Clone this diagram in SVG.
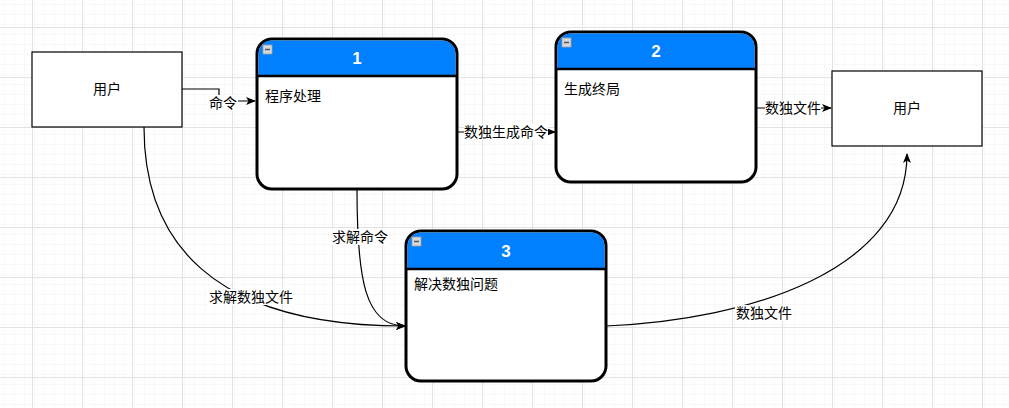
<svg xmlns="http://www.w3.org/2000/svg" width="1009" height="408" viewBox="0 0 1009 408">
<defs>
<pattern id="minor" x="2" y="7" width="10" height="10" patternUnits="userSpaceOnUse">
<path d="M0 0H10M0 0V10" fill="none" stroke="#f2f2f2" stroke-width="1"/>
</pattern>
<pattern id="major" x="32" y="27" width="50" height="50" patternUnits="userSpaceOnUse">
<rect width="50" height="50" fill="url(#minor)"/>
<path d="M0 0.5H50M0.5 0V50" fill="none" stroke="#e2e2e2" stroke-width="1"/>
</pattern>
<marker id="arr" viewBox="0 0 10 10" refX="9" refY="5" markerWidth="10" markerHeight="10" markerUnits="userSpaceOnUse" orient="auto">
<path d="M0 1L10 5L0 9L2.5 5Z" fill="#000"/>
</marker>
<g id="icon">
<rect x="0" y="0" width="9" height="9" fill="#d8d8d8" stroke="#a0a0a0" stroke-width="0.8"/>
<path d="M2 4.5H7" stroke="#555" stroke-width="1.5"/>
</g>
</defs>
<style>
.t{font-family:"Liberation Sans","Noto Sans CJK SC",sans-serif;font-size:14px;fill:#000}
.num{font-family:"Liberation Sans","Noto Sans CJK SC",sans-serif;font-size:17px;font-weight:bold;fill:#fff;text-anchor:middle}
.ext{fill:#fff;stroke:#000;stroke-width:1.2}
.proc{fill:#fff;stroke:#000;stroke-width:3}
.hdr{fill:#007fff}
.edge{fill:none;stroke:#000;stroke-width:1.2}
.lbg{fill:#fff}
</style>
<rect width="1009" height="408" fill="#fff"/>
<rect width="1009" height="408" fill="url(#major)"/>

<g id="user-left">
<rect class="ext" x="32" y="52" width="150" height="75"/>
<text class="t" x="107" y="94" text-anchor="middle">用户</text>
</g>
<g id="user-right">
<rect class="ext" x="832" y="71" width="150" height="75"/>
<text class="t" x="907" y="113" text-anchor="middle">用户</text>
</g>

<g id="p1">
<rect class="proc" x="257" y="39" width="200" height="150" rx="15"/>
<path class="hdr" d="M272 40.5H442A13.5 13.5 0 0 1 455.5 54V75H258.5V54A13.5 13.5 0 0 1 272 40.5Z"/>
<path d="M257 76H457" stroke="#000" stroke-width="2.5"/>
<use href="#icon" x="263" y="45"/>
<text class="num" x="357" y="64">1</text>
<text class="t" x="265" y="101">程序处理</text>
</g>

<g id="p2">
<rect class="proc" x="556" y="32" width="200" height="150" rx="15"/>
<path class="hdr" d="M571 33.5H741A13.5 13.5 0 0 1 754.5 47V68H557.5V47A13.5 13.5 0 0 1 571 33.5Z"/>
<path d="M556 69H756" stroke="#000" stroke-width="2.5"/>
<use href="#icon" x="562" y="38"/>
<text class="num" x="656" y="57">2</text>
<text class="t" x="564" y="94">生成终局</text>
</g>

<g id="p3">
<rect class="proc" x="406" y="231" width="200" height="150" rx="15"/>
<path class="hdr" d="M421 232.5H591A13.5 13.5 0 0 1 604.5 246V268H407.5V246A13.5 13.5 0 0 1 421 232.5Z"/>
<path d="M406 269H606" stroke="#000" stroke-width="2.5"/>
<use href="#icon" x="412" y="237"/>
<text class="num" x="506" y="257">3</text>
<text class="t" x="414" y="289">解决数独问题</text>
</g>

<g id="connectors">
<path class="edge" d="M182 89H219V101H255" marker-end="url(#arr)"/>
<path class="edge" d="M457 132H555" marker-end="url(#arr)"/>
<path class="edge" d="M756 108H831" marker-end="url(#arr)"/>
<path class="edge" d="M357 189C357 280 365 326 405 326" marker-end="url(#arr)"/>
<path class="edge" d="M144 127C144 240 210 326 405 326" marker-end="url(#arr)"/>
<path class="edge" d="M606 326C750 320 907 270 907 154" marker-end="url(#arr)"/>

<rect class="lbg" x="208" y="95" width="30" height="16"/>
<text class="t" x="223" y="108" text-anchor="middle">命令</text>
<rect class="lbg" x="464" y="124" width="84" height="16"/>
<text class="t" x="506" y="137" text-anchor="middle">数独生成命令</text>
<rect class="lbg" x="765" y="100" width="56" height="16"/>
<text class="t" x="793" y="113" text-anchor="middle">数独文件</text>
<rect class="lbg" x="331" y="229" width="58" height="16"/>
<text class="t" x="360" y="242" text-anchor="middle">求解命令</text>
<rect class="lbg" x="207" y="289" width="88" height="16"/>
<text class="t" x="251" y="302" text-anchor="middle">求解数独文件</text>
<rect class="lbg" x="735" y="305" width="58" height="16"/>
<text class="t" x="764" y="318" text-anchor="middle">数独文件</text>
</g>
</svg>
